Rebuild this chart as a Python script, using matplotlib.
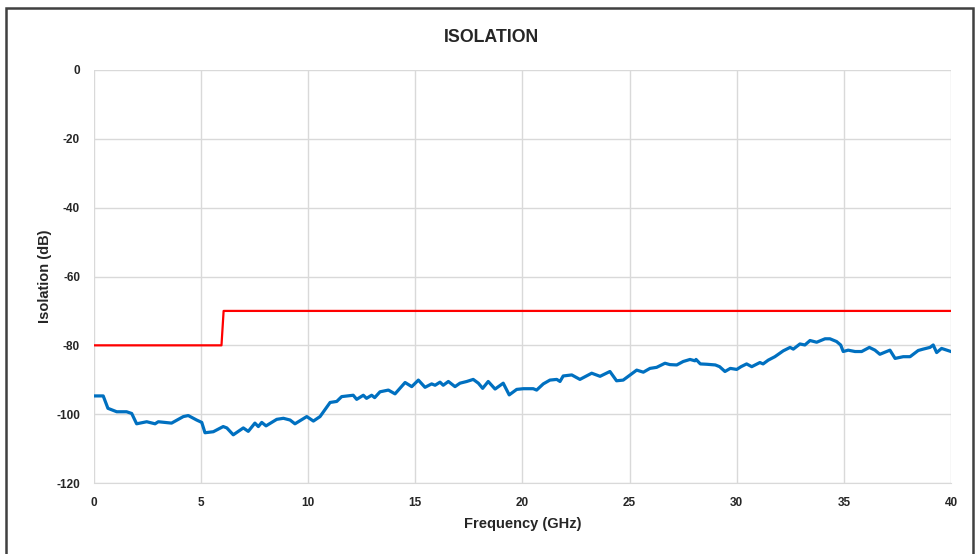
import numpy as np
import matplotlib
matplotlib.use("Agg")
from matplotlib import pyplot as plt
from matplotlib.patches import Rectangle

freq = [0.0, 0.43, 0.65, 1.06, 1.52, 1.76, 1.99, 2.46, 2.85, 3.0, 3.62, 4.17, 4.4,
        4.79, 5.03, 5.18, 5.57, 6.03, 6.2, 6.5, 6.97, 7.2, 7.51, 7.67, 7.83, 8.03,
        8.53, 8.84, 9.15, 9.38, 9.93, 10.24, 10.55, 11.02, 11.33, 11.56, 12.1, 12.26,
        12.57, 12.72, 12.96, 13.1, 13.35, 13.74, 14.05, 14.52, 14.83, 15.14, 15.45,
        15.76, 15.92, 16.15, 16.3, 16.54, 16.85, 17.08, 17.4, 17.7, 17.94, 18.14,
        18.4, 18.72, 19.1, 19.38, 19.73, 20.04, 20.5, 20.66, 20.97, 21.28, 21.6,
        21.75, 21.9, 22.3, 22.68, 23.23, 23.62, 24.08, 24.39, 24.7, 25.33, 25.64,
        25.95, 26.26, 26.65, 26.88, 27.2, 27.5, 27.82, 28.05, 28.1, 28.3, 28.6, 29.0,
        29.2, 29.45, 29.7, 30.0, 30.2, 30.46, 30.7, 31.08, 31.23, 31.47, 31.78,
        32.17, 32.49, 32.64, 32.95, 33.18, 33.42, 33.73, 34.12, 34.35, 34.66, 34.85,
        34.97, 35.2, 35.52, 35.83, 36.19, 36.45, 36.68, 37.15, 37.39, 37.77, 38.09,
        38.47, 38.7, 39.02, 39.17, 39.33, 39.56, 40.0]
isolation = [-94.7, -94.7, -98.3, -99.3, -99.3, -99.8, -102.8, -102.2, -102.8, -102.2,
             -102.6, -100.7, -100.4, -101.7, -102.4, -105.4, -105.1, -103.6, -104.0,
             -106.0, -104.0, -105.0, -102.6, -103.6, -102.4, -103.4, -101.5, -101.2,
             -101.7, -102.8, -100.7, -102.0, -100.7, -96.6, -96.3, -94.9, -94.5, -95.7,
             -94.5, -95.4, -94.5, -95.2, -93.5, -93.0, -94.1, -90.8, -92.0, -90.1,
             -92.2, -91.2, -91.6, -90.7, -91.6, -90.5, -92.0, -91.0, -90.5, -89.9,
             -91.0, -92.5, -90.5, -92.7, -91.0, -94.4, -92.8, -92.6, -92.6, -93.0,
             -91.2, -90.1, -89.9, -90.5, -88.9, -88.6, -89.9, -88.1, -89.0, -87.6,
             -90.3, -90.1, -87.2, -87.8, -86.7, -86.4, -85.2, -85.6, -85.7, -84.7,
             -84.1, -84.5, -84.1, -85.4, -85.5, -85.7, -86.2, -87.6, -86.7, -87.0,
             -86.2, -85.4, -86.2, -85.0, -85.4, -84.3, -83.3, -81.6, -80.6, -81.1,
             -79.6, -79.9, -78.6, -79.1, -78.1, -78.1, -78.9, -79.9, -81.8, -81.4,
             -81.8, -81.8, -80.6, -81.4, -82.6, -81.4, -83.8, -83.3, -83.3, -81.5,
             -81.1, -80.6, -79.9, -82.1, -80.9, -81.8]

# spec limit (red)
limit_freq = [0.0, 5.95, 6.05, 40.0]
limit_db = [-80, -80, -70, -70]

plt.rcParams['font.family'] = ['Liberation Sans', 'DejaVu Sans']
plt.rcParams['axes.unicode_minus'] = False
txt = '#262626'

fig = plt.figure(figsize=(9.79, 5.54), dpi=100)
ax = fig.add_axes([94/979, 1-483/554, (951-94)/979, (483-70)/554])

ax.plot(limit_freq, limit_db, color='#FF0000', lw=1.6)
ax.plot(freq, isolation, color='#0070C0', lw=2.3)

ax.set_xlim(0, 40)
ax.set_ylim(-120, 0)
ax.set_xticks(np.arange(0, 41, 5))
ax.set_yticks(np.arange(-120, 1, 20))
ax.grid(True, color='#d9d9d9', lw=1)
ax.set_axisbelow(True)
for s in ['top', 'right', 'left']:
    ax.spines[s].set_visible(False)
ax.spines['bottom'].set_color('#d9d9d9')
ax.tick_params(length=0, labelsize=8.5, pad=10, labelcolor=txt)
for lab in ax.get_xticklabels() + ax.get_yticklabels():
    lab.set_fontweight('bold')

fig.text(523/979, 1-524/554, 'Frequency (GHz)', ha='center', va='center',
         fontsize=10.5, fontweight='bold', color=txt)
fig.text(45/979, 1-276/554, 'Isolation (dB)', ha='center', va='center',
         rotation=90, fontsize=10.5, fontweight='bold', color=txt)
fig.text(492/979, 1-37/554, 'ISOLATION', ha='center', va='center',
         fontsize=12.8, fontweight='bold', color=txt)

# chart frame
fig.patches.append(Rectangle((6/979, -0.05), (973-6)/979, 1-8/554+0.05,
                             transform=fig.transFigure, fill=False,
                             edgecolor='#404040', lw=1.8))

fig.savefig('out.png', dpi=100)
